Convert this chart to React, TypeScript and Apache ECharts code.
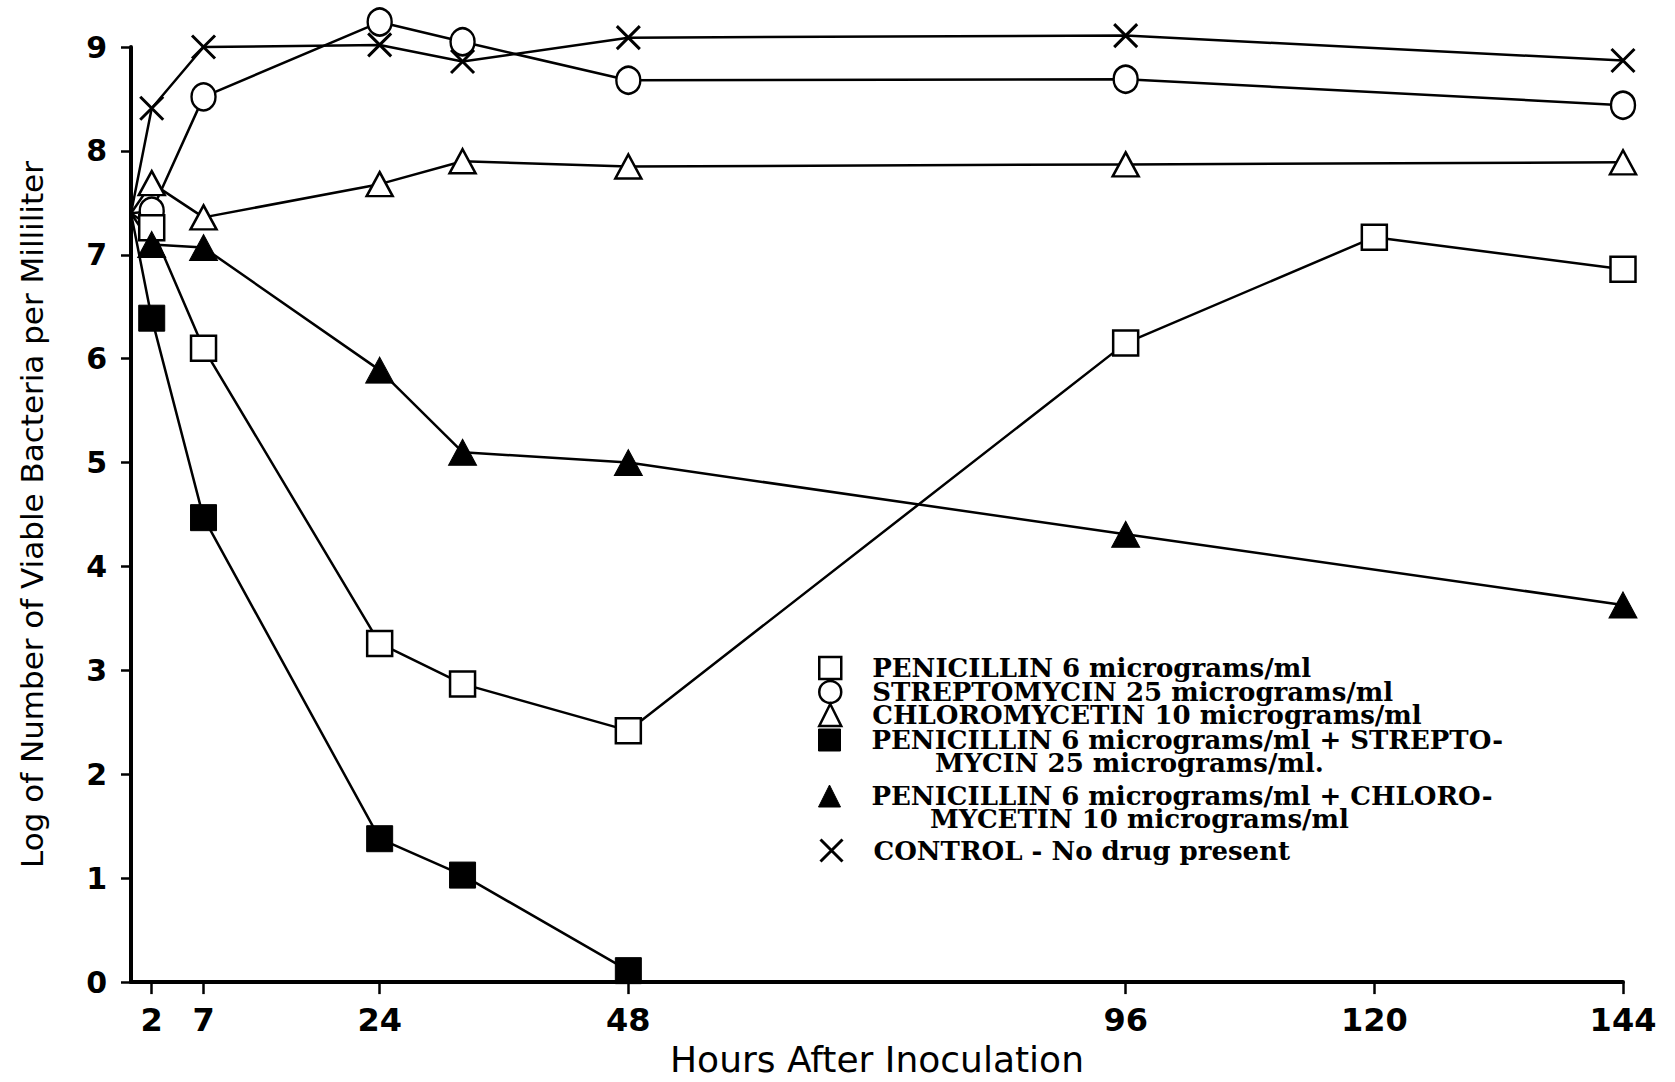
import React, { useEffect, useRef } from "react";
import * as echarts from "echarts";

const TICK_HOURS = [2, 7, 24, 48, 96, 120, 144];

const HOURS = [0, 2, 7, 24, 32, 48, 96, 144];
const PEN_HOURS = [0, 2, 7, 24, 32, 48, 96, 120, 144];
const PEN_STREP_HOURS = [0, 2, 7, 24, 32, 48];

const penicillin = [7.4, 7.26, 6.1, 3.26, 2.87, 2.42, 6.15, 7.17, 6.86];
const streptomycin = [7.4, 7.42, 8.52, 9.24, 9.05, 8.68, 8.69, 8.44];
const chloromycetin = [7.4, 7.69, 7.36, 7.68, 7.9, 7.85, 7.87, 7.89];
const penStrep = [7.4, 6.39, 4.47, 1.38, 1.03, 0.11];
const penChloro = [7.4, 7.1, 7.07, 5.89, 5.1, 5.0, 4.31, 3.63];
const control = [7.4, 8.41, 9.0, 9.02, 8.86, 9.09, 9.11, 8.87];

const NAMES = {
  pen: "PENICILLIN 6 micrograms/ml",
  strep: "STREPTOMYCIN 25 micrograms/ml",
  chloro: "CHLOROMYCETIN 10 micrograms/ml",
  penStrep: "PENICILLIN 6 micrograms/ml + STREPTOMYCIN 25 micrograms/ml",
  penChloro: "PENICILLIN 6 micrograms/ml + CHLOROMYCETIN 10 micrograms/ml",
  control: "CONTROL - No drug present",
};

const FIRST_LINES: Record<string, string> = {
  [NAMES.pen]: "PENICILLIN 6 micrograms/ml",
  [NAMES.strep]: "STREPTOMYCIN 25 micrograms/ml",
  [NAMES.chloro]: "CHLOROMYCETIN 10 micrograms/ml",
  [NAMES.penStrep]: "PENICILLIN 6 micrograms/ml + STREPTO-",
  [NAMES.penChloro]: "PENICILLIN 6 micrograms/ml + CHLORO-",
  [NAMES.control]: "CONTROL - No drug present",
};
const CONT_PEN_STREP = "MYCIN 25 micrograms/ml.";
const CONT_PEN_CHLORO = "MYCETIN 10 micrograms/ml";

const X_PATH = "path://M0,0L10,10M10,0L0,10";

const openStyle = { color: "#fff", borderColor: "#000", borderWidth: 2.5 };
const filledStyle = { color: "#000", borderColor: "#000", borderWidth: 1 };
const xStyle = { color: "none", borderColor: "#000", borderWidth: 3 };

function pairs(hours: number[], vals: number[]) {
  return hours.map((h, i) =>
    h === 0 ? { value: [h, vals[i]], symbolSize: 0 } : { value: [h, vals[i]] }
  );
}

const LEGEND_FONT = {
  fontFamily: "DejaVu Serif",
  fontWeight: "bold" as const,
  fontSize: 26,
  color: "#000",
  padding: [0, 0, 0, 26],
};

export default function App() {
  const ref = useRef<HTMLDivElement>(null);
  useEffect(() => {
    document.body.style.margin = "0";
    const chart = echarts.init(ref.current!, null, { renderer: "svg" });
    const line = { color: "#000", width: 2.5 };
    const mk = (name: string, hours: number[], vals: number[], symbol: string, size: any, style: any) => ({
      name,
      type: "line",
      data: pairs(hours, vals),
      symbol,
      symbolSize: size,
      showAllSymbol: true,
      clip: false,
      color: "#000",
      lineStyle: line,
      itemStyle: style,
      z: 3,
    });
    const leg = (top: number, name: string, icon: string, itemStyle: any) => ({
      orient: "vertical",
      left: 818,
      top,
      padding: 0,
      itemWidth: 22,
      itemHeight: 22,
      itemGap: 0,
      selectedMode: false,
      textStyle: LEGEND_FONT,
      formatter: (n: string) => FIRST_LINES[n] || n,
      data: [{ name, icon, itemStyle }],
    });
    const contStyle = { fontFamily: "DejaVu Serif", fontWeight: "bold", fontSize: 26, fill: "#000" };
    chart.setOption({
      animation: false,
      backgroundColor: "#fff",
      grid: { left: 131, right: 52, top: 47, bottom: 94 },
      xAxis: {
        type: "value",
        min: 0,
        max: 144,
        name: "Hours After Inoculation",
        nameLocation: "middle",
        nameGap: 57,
        nameTextStyle: { fontFamily: "DejaVu Sans", fontSize: 36, color: "#000" },
        axisLine: { lineStyle: { color: "#000", width: 4 } },
        axisTick: { show: true, length: 12, customValues: TICK_HOURS, lineStyle: { color: "#000", width: 2.5 } },
        axisLabel: {
          customValues: TICK_HOURS,
          margin: 22,
          fontFamily: "DejaVu Sans",
          fontWeight: "bold",
          fontSize: 32,
          color: "#000",
        },
        splitLine: { show: false },
      },
      yAxis: {
        type: "value",
        min: 0,
        max: 9,
        interval: 1,
        name: "Log of Number of Viable Bacteria per Milliliter",
        nameLocation: "middle",
        nameGap: 84,
        nameTextStyle: { fontFamily: "DejaVu Sans", fontSize: 31, color: "#000" },
        axisLine: { show: true, lineStyle: { color: "#000", width: 4 } },
        axisTick: { show: true, length: 10, lineStyle: { color: "#000", width: 2.5 } },
        axisLabel: {
          margin: 24,
          fontFamily: "DejaVu Sans",
          fontWeight: "bold",
          fontSize: 30,
          color: "#000",
        },
        splitLine: { show: false },
      },
      legend: [
        leg(655, NAMES.pen, "rect", openStyle),
        leg(679, NAMES.strep, "circle", openStyle),
        leg(702, NAMES.chloro, "triangle", openStyle),
        leg(727, NAMES.penStrep, "rect", filledStyle),
        leg(783, NAMES.penChloro, "triangle", filledStyle),
        leg(837, NAMES.control, X_PATH, xStyle),
      ],
      graphic: [
        { type: "text", left: 935, top: 750, style: { text: CONT_PEN_STREP, ...contStyle } },
        { type: "text", left: 930, top: 806, style: { text: CONT_PEN_CHLORO, ...contStyle } },
      ],
      series: [
        mk(NAMES.control, HOURS, control, X_PATH, 23, xStyle),
        mk(NAMES.strep, HOURS, streptomycin, "circle", [24, 27], openStyle),
        mk(NAMES.chloro, HOURS, chloromycetin, "triangle", [26, 24], openStyle),
        mk(NAMES.pen, PEN_HOURS, penicillin, "rect", 25, openStyle),
        mk(NAMES.penChloro, HOURS, penChloro, "triangle", [28, 26], filledStyle),
        mk(NAMES.penStrep, PEN_STREP_HOURS, penStrep, "rect", 26, filledStyle),
      ],
    });
    return () => chart.dispose();
  }, []);
  return <div ref={ref} style={{ width: 1675, height: 1082 }} />;
}
